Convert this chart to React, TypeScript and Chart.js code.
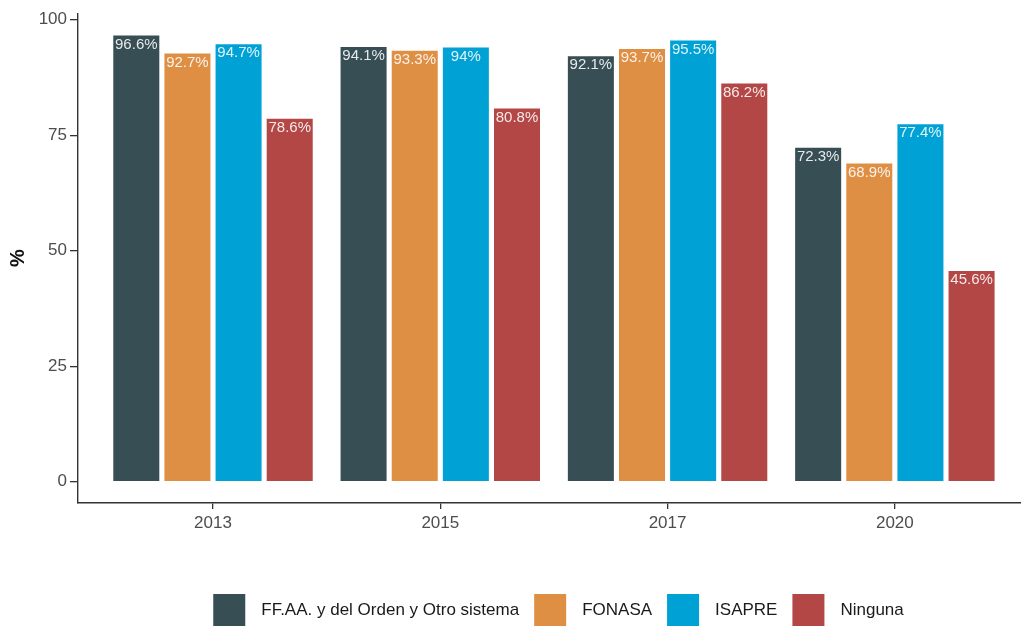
import React, { useEffect, useRef } from "react";
import { Chart, registerables } from "chart.js";

Chart.register(...registerables);

const categories = ["2013", "2015", "2017", "2020"];
const seriesNames = ["FF.AA. y del Orden y Otro sistema", "FONASA", "ISAPRE", "Ninguna"];
const ffaa = [96.6, 94.1, 92.1, 72.3];
const fonasa = [92.7, 93.3, 93.7, 68.9];
const isapre = [94.7, 94, 95.5, 77.4];
const ninguna = [78.6, 80.8, 86.2, 45.6];
const yTicks = [0, 25, 50, 75, 100];
const colors = ["#374E55", "#DF8F44", "#00A1D5", "#B24745"];

const seriesValues = [ffaa, fonasa, isapre, ninguna];
const FONT = '"Liberation Sans", Arial, sans-serif';

const labelPlugin = {
  id: "barLabels",
  afterDatasetsDraw(chart: any) {
    const ctx = chart.ctx;
    ctx.save();
    ctx.font = `15px ${FONT}`;
    ctx.fillStyle = "rgba(255,255,255,0.88)";
    ctx.textAlign = "center";
    ctx.textBaseline = "middle";
    chart.data.datasets.forEach((_ds: any, i: number) => {
      const meta = chart.getDatasetMeta(i);
      meta.data.forEach((bar: any, j: number) => {
        ctx.fillText(`${seriesValues[i][j]}%`, bar.x, bar.y + 9);
      });
    });
    ctx.restore();
  },
};

const legendPlugin = {
  id: "bottomLegend",
  afterDraw(chart: any) {
    const ctx = chart.ctx;
    ctx.save();
    ctx.font = `17px ${FONT}`;
    const box = 32;
    const gapText = 16;
    const gapItem = 15;
    const widths = seriesNames.map((n) => ctx.measureText(n).width);
    const total =
      widths.reduce((a, w) => a + box + gapText + w, 0) + gapItem * (seriesNames.length - 1);
    const center = (chart.chartArea.left + chart.chartArea.right) / 2 + 9;
    let x = center - total / 2;
    const top = 594;
    ctx.textBaseline = "middle";
    ctx.textAlign = "left";
    seriesNames.forEach((n, i) => {
      ctx.fillStyle = colors[i];
      ctx.fillRect(x, top, box, box);
      x += box + gapText;
      ctx.fillStyle = "#1a1a1a";
      ctx.fillText(n, x, top + box / 2);
      x += widths[i] + gapItem;
    });
    ctx.restore();
  },
};

export default function App() {
  const ref = useRef<HTMLCanvasElement | null>(null);

  useEffect(() => {
    if (!ref.current) return;
    Chart.defaults.font.family = FONT;
    const chart = new Chart(ref.current, {
      type: "bar",
      data: {
        datasets: seriesNames.map((name, i) => ({
          label: name,
          data: seriesValues[i].map((v, j) => ({ x: j, y: v })),
          backgroundColor: colors[i],
          borderWidth: 0,
          categoryPercentage: 0.9,
          barPercentage: 0.9,
        })),
      },
      options: {
        animation: false,
        responsive: false,
        devicePixelRatio: 1,
        layout: { padding: { top: 11, right: 0, left: 0, bottom: 90 } },
        plugins: {
          legend: { display: false },
          tooltip: { enabled: false },
        },
        scales: {
          x: {
            type: "linear",
            offset: false,
            min: -0.594,
            max: 3.555,
            afterBuildTicks: (s: any) => {
              s.ticks = categories.map((_c, i) => ({ value: i }));
            },
            afterFit: (s: any) => {
              s.height = 34;
            },
            ticks: {
              callback: (v: any) => categories[v as number] ?? "",
              font: { size: 17 },
              color: "#4d4d4d",
              padding: 4,
              autoSkip: false,
              maxRotation: 0,
            },
            grid: {
              offset: false,
              display: true,
              drawOnChartArea: false,
              drawTicks: true,
              tickLength: 6,
              color: "#333333",
              lineWidth: 1.3,
            },
            border: { display: true, color: "#333333", width: 1.4 },
          },
          y: {
            min: -4.6,
            max: 101.43,
            afterBuildTicks: (s: any) => {
              s.ticks = yTicks.map((v) => ({ value: v }));
            },
            afterFit: (s: any) => {
              s.width = 78;
            },
            ticks: {
              font: { size: 17 },
              color: "#4d4d4d",
              padding: 3,
            },
            grid: {
              display: true,
              drawOnChartArea: false,
              drawTicks: true,
              tickLength: 8,
              color: "#333333",
              lineWidth: 1.3,
            },
            border: { display: true, color: "#333333", width: 1.4 },
            title: {
              display: true,
              text: "%",
              font: { size: 20, weight: "bold" },
              color: "#111111",
              padding: { top: 6, bottom: 0 },
            },
          },
        },
      },
      plugins: [labelPlugin, legendPlugin],
    } as any);
    return () => chart.destroy();
  }, []);

  return (
    <div style={{ position: "fixed", left: 0, top: 0, width: 1021, height: 627, background: "#fff" }}>
      <canvas ref={ref} width={1021} height={627} />
    </div>
  );
}
